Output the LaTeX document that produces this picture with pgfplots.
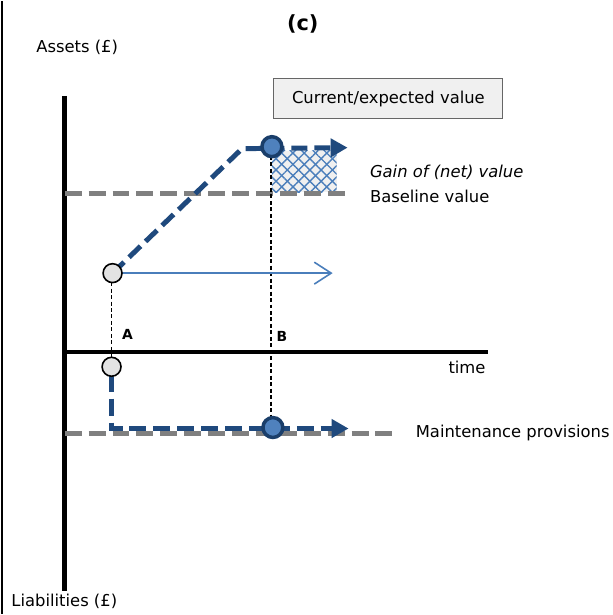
\documentclass[border=0pt]{standalone}
\usepackage{pgfplots}
\pgfplotsset{compat=1.18}
\usepackage{fontspec}
\setmainfont{DejaVu Sans}
\usetikzlibrary{arrows.meta,patterns.meta}
\definecolor{navy}{HTML}{1F497D}
\definecolor{midblue}{HTML}{4F81BD}
\definecolor{thinblue}{HTML}{4A7EBB}
\definecolor{dgray}{HTML}{808080}
\begin{document}
\begin{tikzpicture}
\begin{axis}[
  scale only axis, width=614bp, height=615bp,
  xmin=0, xmax=614, ymin=0, ymax=615, y dir=reverse,
  axis lines=none, clip=false,
]
\path (rel axis cs:0,0) rectangle (rel axis cs:1,1);
% frame line at left
\addplot[black, line width=2.5bp] coordinates {(2,0) (2,615)};
% axes
\addplot[black, line width=5bp] coordinates {(65,95) (65,592)};
\addplot[black, line width=4.5bp] coordinates {(65,352) (490,352)};
% hatch region
\addplot[draw=none, fill=gray!12] coordinates {(273,150) (338,150) (338,192) (273,192)} -- cycle;
\addplot[draw=none, pattern={Lines[angle=45,distance=8bp,line width=1.4bp]}, pattern color=thinblue] coordinates {(273,150) (338,150) (338,192) (273,192)} -- cycle;
\addplot[draw=none, pattern={Lines[angle=-45,distance=8bp,line width=1.4bp]}, pattern color=thinblue] coordinates {(273,150) (338,150) (338,192) (273,192)} -- cycle;
% baseline and maintenance dashed grey
\addplot[dgray, line width=4.5bp, dash pattern=on 17bp off 7bp] coordinates {(65,193) (347,193)};
\addplot[dgray, line width=4.5bp, dash pattern=on 17bp off 7bp] coordinates {(65,434) (396,434)};
% dotted verticals
\addplot[black, line width=1.3bp, dash pattern=on 4bp off 2.5bp] coordinates {(112,282) (112,358)};
\addplot[black, line width=1.3bp, dash pattern=on 4bp off 2.5bp] coordinates {(272,155) (272,420)};
% thin blue arrow
\addplot[thinblue, line width=1.6bp, -{Straight Barb[length=17bp,width=22bp,line width=1.6bp]}] coordinates {(120,273) (334,273)};
% blue dashed asset path
\addplot[navy, line width=5bp, dash pattern=on 16bp off 7bp, -{Triangle[length=17bp,width=18bp]}] coordinates {(113,273) (243,148) (349,147)};
% blue dashed liability path
\addplot[navy, line width=5bp, dash pattern=on 17bp off 7bp, -{Triangle[length=17bp,width=18bp]}] coordinates {(112,375) (112,429) (350,429)};
% circles
\addplot[only marks, mark=*, mark size=9.5bp, mark options={fill=gray!22, draw=black, line width=1.6bp}] coordinates {(113,273) (112,367)};
\addplot[only marks, mark=*, mark size=10bp, mark options={fill=midblue, draw=navy!85!black, line width=3.5bp}] coordinates {(273,146) (274,428)};
% texts
\node[font=\fontsize{21}{24}\selectfont\bfseries] at (axis cs:304,23) {(c)};
\node[anchor=west, font=\fontsize{16.5}{19}\selectfont] at (axis cs:33,46) {Assets (£)};
\node[anchor=west, font=\fontsize{16.5}{19}\selectfont] at (axis cs:8,603) {Liabilities (£)};
\node[draw=dgray!80!black, fill=gray!12, line width=1bp, minimum width=230bp, minimum height=40bp, inner sep=0pt, font=\fontsize{16.5}{19}\selectfont] at (axis cs:390,98) {Current/expected value};
\node[anchor=west, font=\fontsize{16.5}{19}\selectfont\itshape] at (axis cs:368,172) {Gain of (net) value};
\node[anchor=west, font=\fontsize{16.5}{19}\selectfont] at (axis cs:368,196) {Baseline value};
\node[anchor=east, font=\fontsize{16.5}{19}\selectfont] at (axis cs:491,368) {time};
\node[anchor=west, font=\fontsize{16.5}{19}\selectfont] at (axis cs:414,433) {Maintenance provisions};
\node[font=\fontsize{14}{16}\selectfont\bfseries] at (axis cs:128,335) {A};
\node[font=\fontsize{14}{16}\selectfont\bfseries] at (axis cs:283,337) {B};
\end{axis}
\end{tikzpicture}
\end{document}
